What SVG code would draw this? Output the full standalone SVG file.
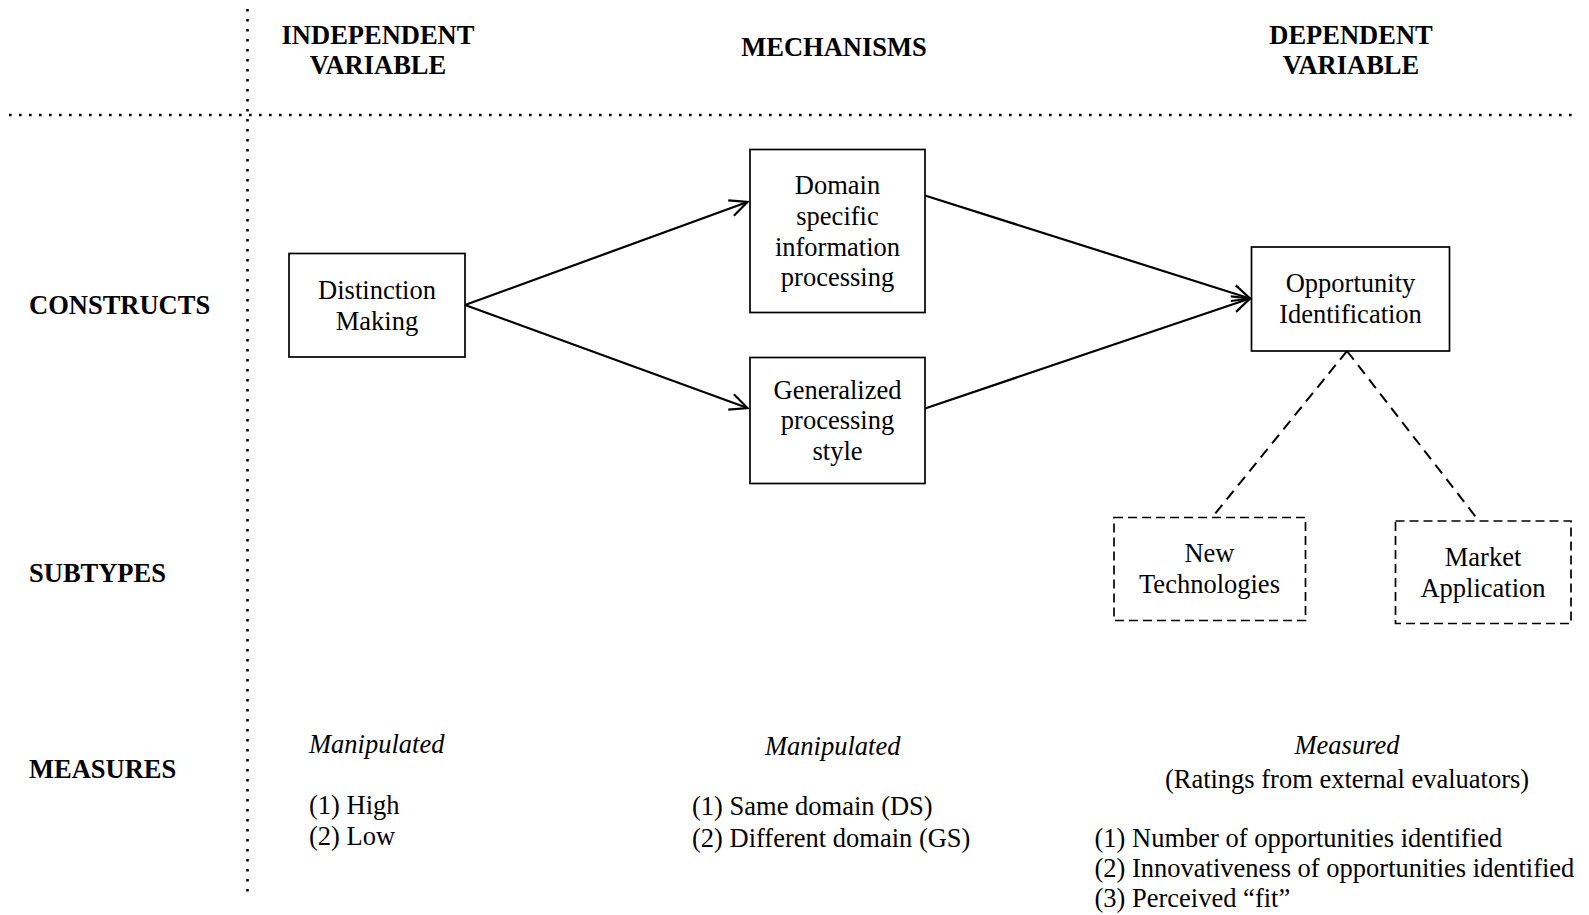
<svg xmlns="http://www.w3.org/2000/svg" width="1589" height="915" viewBox="0 0 1589 915">
<style>
text{font-family:"Liberation Serif","Times New Roman",serif;fill:#000;font-size:26.5px}
.h{font-weight:bold;text-anchor:middle}
.l{font-weight:bold}
.c{text-anchor:middle}
.i{font-style:italic}
.box{fill:#fff;stroke:#000;stroke-width:1.7}
.dbox{fill:#fff;stroke:#000;stroke-width:1.7;stroke-dasharray:9 5}
.arr{fill:none;stroke:#000;stroke-width:2.2;marker-end:url(#ah)}
.dash{fill:none;stroke:#000;stroke-width:2;stroke-dasharray:11 7}
.dot{fill:none;stroke:#000;stroke-width:2.6;stroke-dasharray:2.6 7.4}
</style>
<defs>
<marker id="ah" markerUnits="userSpaceOnUse" markerWidth="40" markerHeight="40" refX="0" refY="0" viewBox="-20 -20 40 40" orient="auto" overflow="visible">
<path d="M-17.5,-8.2 L0,0 L-17.5,8.2" fill="none" stroke="#000" stroke-width="2.2"/>
</marker>
</defs>
<rect width="1589" height="915" fill="#fff"/>
<g id="grid">
<line class="dot" x1="247.5" y1="9" x2="247.5" y2="893"/>
<line class="dot" x1="9" y1="115" x2="1575" y2="115"/>
</g>
<g id="headers">
<text class="h" x="378" y="44">INDEPENDENT</text>
<text class="h" x="378" y="74">VARIABLE</text>
<text class="h" x="834" y="56">MECHANISMS</text>
<text class="h" x="1351" y="44">DEPENDENT</text>
<text class="h" x="1351" y="74">VARIABLE</text>
<text class="l" x="29" y="314">CONSTRUCTS</text>
<text class="l" x="29" y="582">SUBTYPES</text>
<text class="l" x="29" y="778">MEASURES</text>
</g>
<g id="connectors">
<line class="arr" x1="465" y1="305" x2="747.5" y2="202"/>
<line class="arr" x1="465" y1="305" x2="747.5" y2="408"/>
<line class="arr" x1="925" y1="195.5" x2="1250" y2="298.5"/>
<line class="arr" x1="925" y1="408.5" x2="1250" y2="298.5"/>
<line class="dash" x1="1347" y1="351" x2="1212" y2="517.5"/>
<line class="dash" x1="1347" y1="351" x2="1479" y2="521"/>
</g>
<g id="distinction">
<rect class="box" x="289" y="253.5" width="176" height="103.5"/>
<text class="c" x="377" y="299">Distinction</text>
<text class="c" x="377" y="330">Making</text>
</g>
<g id="domain">
<rect class="box" x="750" y="149.5" width="175" height="163"/>
<text class="c" x="837.5" y="194">Domain</text>
<text class="c" x="837.5" y="225">specific</text>
<text class="c" x="837.5" y="255.5">information</text>
<text class="c" x="837.5" y="286">processing</text>
</g>
<g id="generalized">
<rect class="box" x="750" y="357.5" width="175" height="126"/>
<text class="c" x="837.5" y="398.5">Generalized</text>
<text class="c" x="837.5" y="429">processing</text>
<text class="c" x="837.5" y="460">style</text>
</g>
<g id="opportunity">
<rect class="box" x="1251.5" y="247" width="198" height="104"/>
<text class="c" x="1350.5" y="292">Opportunity</text>
<text class="c" x="1350.5" y="323.3">Identification</text>
</g>
<g id="newtech">
<rect class="dbox" x="1114" y="517.5" width="191.5" height="103"/>
<text class="c" x="1209.5" y="562">New</text>
<text class="c" x="1209.5" y="593">Technologies</text>
</g>
<g id="market">
<rect class="dbox" x="1395.5" y="521" width="175.5" height="102.5"/>
<text class="c" x="1483" y="565.5">Market</text>
<text class="c" x="1483" y="597">Application</text>
</g>
<g id="measures">
<text class="i" x="309" y="752.5">Manipulated</text>
<text x="309" y="813.5">(1) High</text>
<text x="309" y="845">(2) Low</text>
<text class="i" x="765" y="754.5">Manipulated</text>
<text x="692" y="815">(1) Same domain (DS)</text>
<text x="692" y="846.5">(2) Different domain (GS)</text>
<text class="i c" x="1347" y="753.5">Measured</text>
<text class="c" x="1347" y="787.5">(Ratings from external evaluators)</text>
<text x="1094.5" y="846.5">(1) Number of opportunities identified</text>
<text x="1094.5" y="876.5">(2) Innovativeness of opportunities identified</text>
<text x="1094.5" y="906.5">(3) Perceived “fit”</text>
</g>
</svg>
